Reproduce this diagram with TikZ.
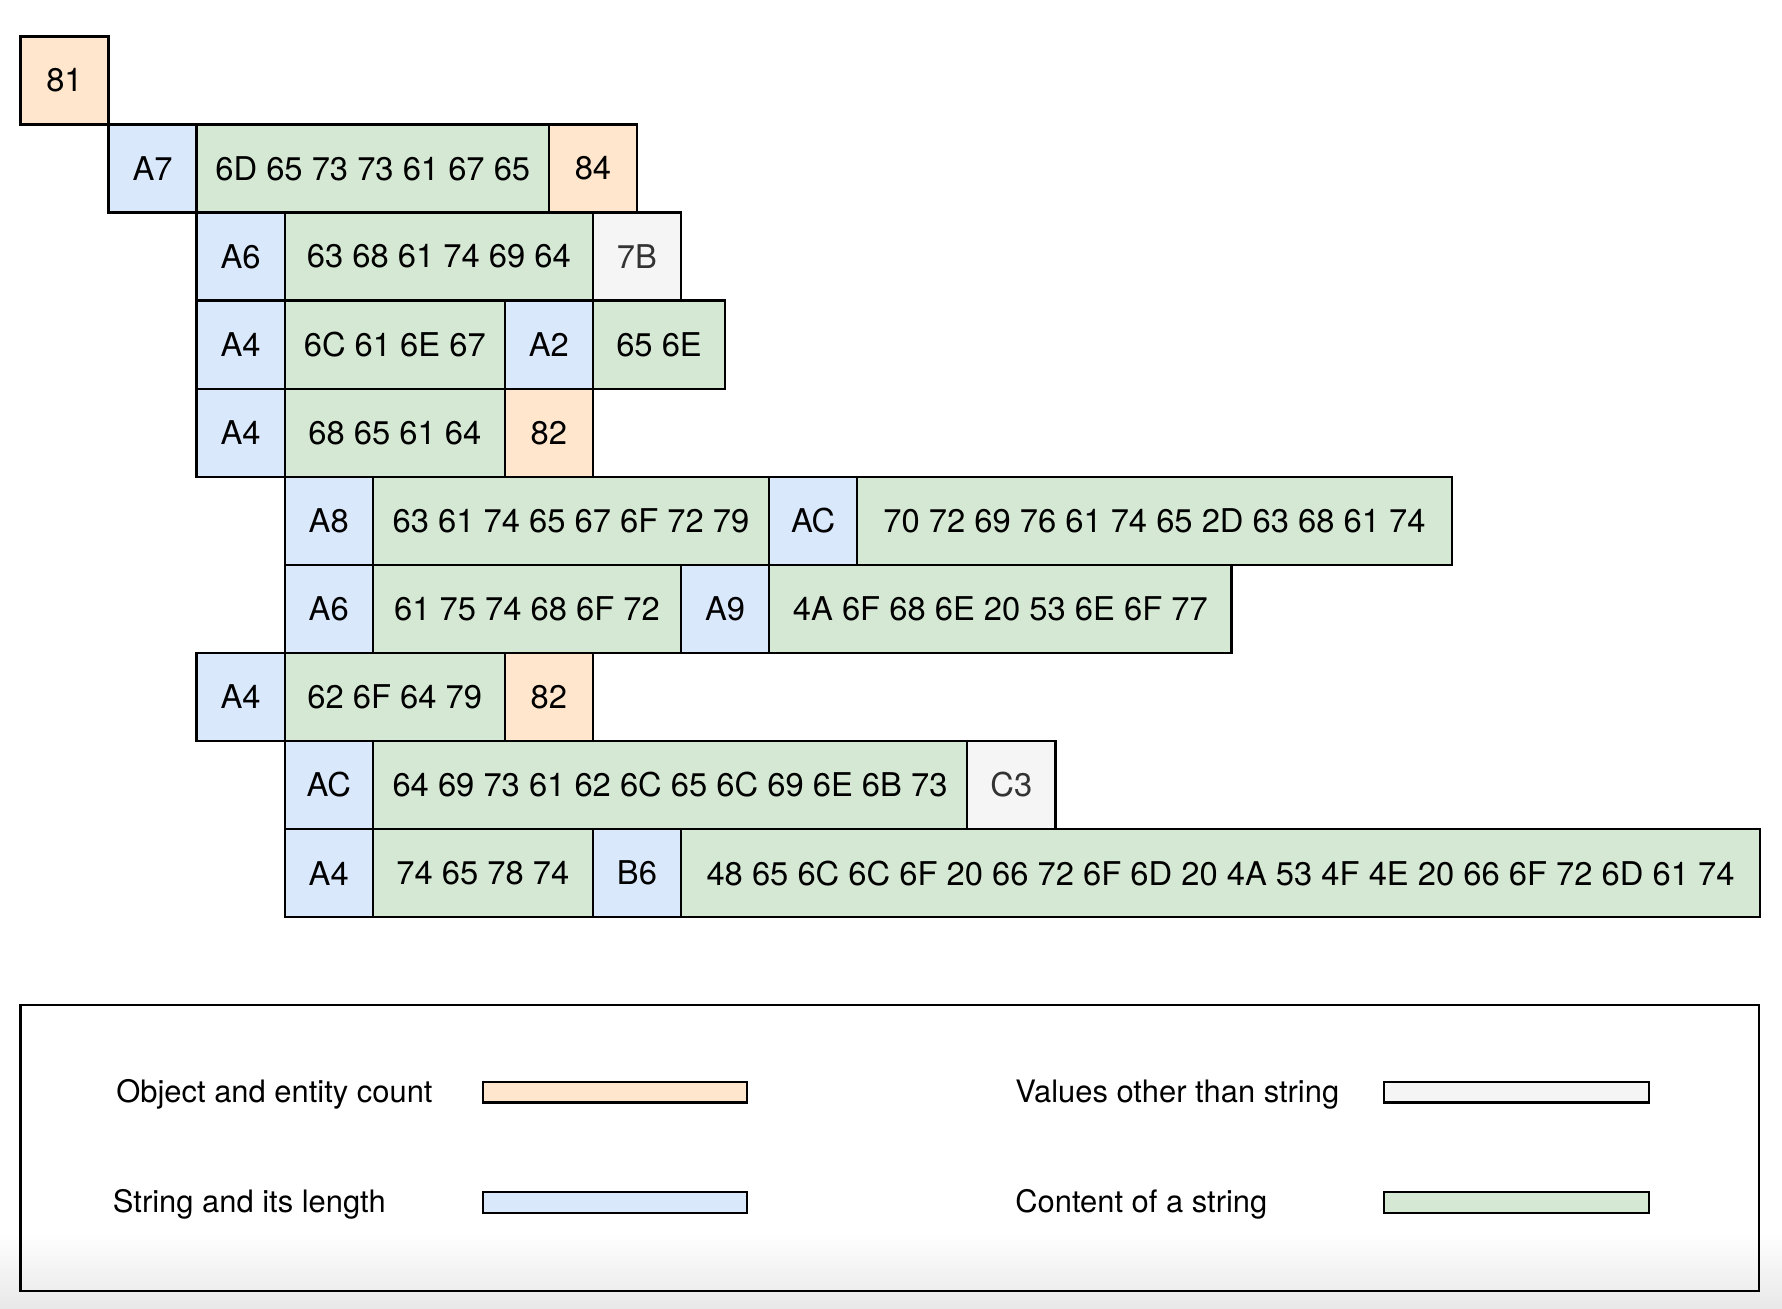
\documentclass[tikz,border=0pt]{standalone}
\usepackage{fontspec}
\setmainfont{TeX Gyre Heros}
\usetikzlibrary{fit}
\definecolor{ofill}{HTML}{FFE6CC}
\definecolor{bfill}{HTML}{DAE8FC}
\definecolor{gfill}{HTML}{D5E8D4}
\definecolor{wfill}{HTML}{F5F5F5}
\definecolor{txtgray}{HTML}{333333}
\newcommand\bytecell[6]{%
  \node[#5, fit={({18+77.5*#2},{32+77.5*#4}) ({18+77.5*#3},{32+77.5*(#4+1)})}] (#1) {};
  \node[celltext, #5txt] (#1t) at (#1.center) {#6};}
\begin{document}
\begin{tikzpicture}[x=0.5pt,y=-0.5pt,
  cellbox/.style={draw=black, line width=1pt, inner sep=0pt},
  celltext/.style={inner sep=0pt, anchor=center, font=\fontsize{14.4}{16}\selectfont},
  cntcell/.style={cellbox, fill=ofill},
  lencell/.style={cellbox, fill=bfill},
  strcell/.style={cellbox, fill=gfill},
  othcell/.style={cellbox, fill=wfill},
  cntcelltxt/.style={text=black},
  lencelltxt/.style={text=black},
  strcelltxt/.style={text=black},
  othcelltxt/.style={text=txtgray},
  legtext/.style={anchor=base west, inner sep=0pt, font=\fontsize{13.6}{16}\selectfont},
  swatch/.style={draw=black, line width=1pt, inner sep=0pt}]
\useasboundingbox (0,0) rectangle (1568,1151);
\shade[top color=white, bottom color=black!9] (0,1085) rectangle (1568,1151);
% row 0
\bytecell{c81}{0}{1}{0}{cntcell}{81}
% row 1
\bytecell{a7}{1}{2}{1}{lencell}{A7}
\bytecell{s1}{2}{6}{1}{strcell}{6D 65 73 73 61 67 65}
\bytecell{c84}{6}{7}{1}{cntcell}{84}
% row 2
\bytecell{a6a}{2}{3}{2}{lencell}{A6}
\bytecell{s2}{3}{6.5}{2}{strcell}{63 68 61 74 69 64}
\bytecell{o7b}{6.5}{7.5}{2}{othcell}{7B}
% row 3
\bytecell{a4a}{2}{3}{3}{lencell}{A4}
\bytecell{s3}{3}{5.5}{3}{strcell}{6C 61 6E 67}
\bytecell{a2}{5.5}{6.5}{3}{lencell}{A2}
\bytecell{s4}{6.5}{8}{3}{strcell}{65 6E}
% row 4
\bytecell{a4b}{2}{3}{4}{lencell}{A4}
\bytecell{s5}{3}{5.5}{4}{strcell}{68 65 61 64}
\bytecell{c82a}{5.5}{6.5}{4}{cntcell}{82}
% row 5
\bytecell{a8}{3}{4}{5}{lencell}{A8}
\bytecell{s6}{4}{8.5}{5}{strcell}{63 61 74 65 67 6F 72 79}
\bytecell{aca}{8.5}{9.5}{5}{lencell}{AC}
\bytecell{s7}{9.5}{16.25}{5}{strcell}{70 72 69 76 61 74 65 2D 63 68 61 74}
% row 6
\bytecell{a6b}{3}{4}{6}{lencell}{A6}
\bytecell{s8}{4}{7.5}{6}{strcell}{61 75 74 68 6F 72}
\bytecell{a9}{7.5}{8.5}{6}{lencell}{A9}
\bytecell{s9}{8.5}{13.75}{6}{strcell}{4A 6F 68 6E 20 53 6E 6F 77}
% row 7
\bytecell{a4c}{2}{3}{7}{lencell}{A4}
\bytecell{s10}{3}{5.5}{7}{strcell}{62 6F 64 79}
\bytecell{c82b}{5.5}{6.5}{7}{cntcell}{82}
% row 8
\bytecell{acb}{3}{4}{8}{lencell}{AC}
\bytecell{s11}{4}{10.75}{8}{strcell}{64 69 73 61 62 6C 65 6C 69 6E 6B 73}
\bytecell{oc3}{10.75}{11.75}{8}{othcell}{C3}
% row 9
\bytecell{a4d}{3}{4}{9}{lencell}{A4}
\bytecell{s12}{4}{6.5}{9}{strcell}{74 65 78 74}
\bytecell{b6}{6.5}{7.5}{9}{lencell}{B6}
\bytecell{s13}{7.5}{19.75}{9}{strcell}{48 65 6C 6C 6F 20 66 72 6F 6D 20 4A 53 4F 4E 20 66 6F 72 6D 61 74}
% legend
\node[draw=black, line width=1pt, inner sep=0pt, fit={(18,884) (1548,1136)}] (legend) {};
\node[legtext] (l1) at (102,970) {Object and entity count};
\node[legtext] (l2) at (99,1067) {String and its length};
\node[legtext] (l3) at (893,970) {Values other than string};
\node[legtext] (l4) at (893,1067) {Content of a string};
\node[swatch, fill=ofill, fit={(425,952) (657,970)}] (w1) {};
\node[swatch, fill=bfill, fit={(425,1049) (657,1067)}] (w2) {};
\node[swatch, fill=wfill, fit={(1218,952) (1451,970)}] (w3) {};
\node[swatch, fill=gfill, fit={(1218,1049) (1451,1067)}] (w4) {};
\end{tikzpicture}
\end{document}
